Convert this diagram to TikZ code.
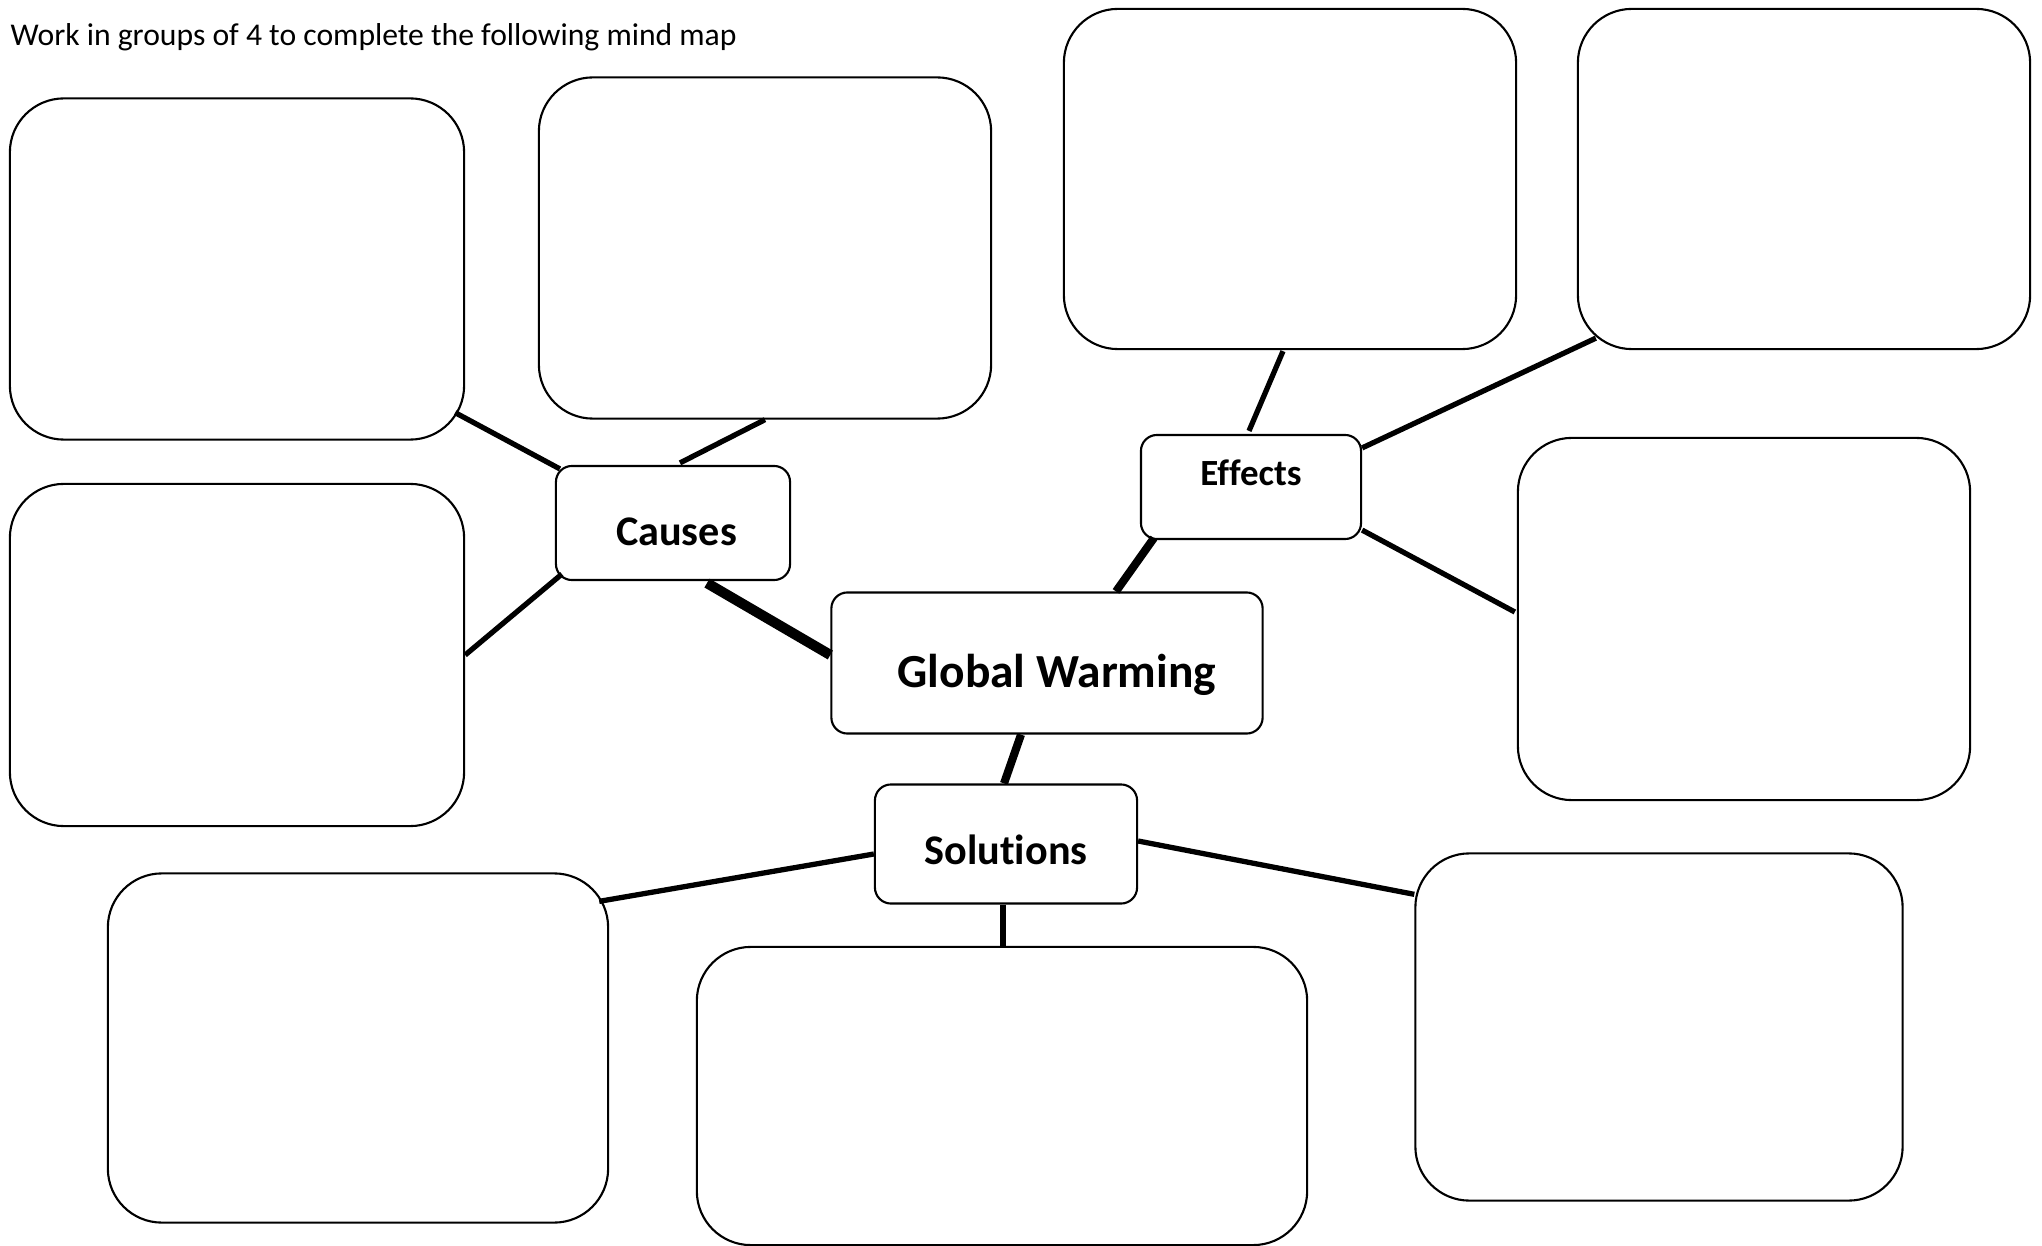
\documentclass[tikz,border=0pt]{standalone}
\usepackage{fontspec}
\setmainfont{Carlito}[Ligatures=CommonOff]
\begin{document}
\begin{tikzpicture}[x=0.01cm, y=-0.01cm,
        bigbox/.style={draw, line width=0.6pt, rounded corners=0.54cm, inner sep=0},
        topic/.style={draw, line width=0.6pt, rounded corners=0.16cm, inner sep=0, font=\bfseries},
        twig/.style={line width=1.5pt},
        branch/.style={line width=2.3pt}]
        \useasboundingbox (0,0) rectangle (2042,1246);

        \node[anchor=west, inner sep=0, font=\fontsize{9}{11}\selectfont] (task) at (10,37) {Work in groups of 4 to complete the following mind map};

        % centre and the three topics
        \node[topic, minimum width=4.31cm, minimum height=1.41cm, text height=16.8pt, text depth=2.6pt, font=\bfseries\fontsize{13.5}{16}\selectfont] (gw) at (1047,663) {\hspace{5.6pt}Global Warming};
        \node[topic, minimum width=2.34cm, minimum height=1.14cm, text height=13pt, text depth=0pt, font=\bfseries\fontsize{12}{14}\selectfont] (causes) at (673,523) {\hspace{2pt}Causes};
        \node[topic, minimum width=2.20cm, minimum height=1.04cm, text depth=8pt, font=\bfseries\fontsize{10.5}{12}\selectfont] (effects) at (1251,487) {Effects};
        \node[topic, minimum width=2.62cm, minimum height=1.19cm, text height=11.8pt, text depth=0pt, font=\bfseries\fontsize{12}{14}\selectfont] (solutions) at (1006,844) {Solutions};

        % empty boxes
        \node[bigbox, minimum width=4.54cm, minimum height=3.41cm] (c1) at (237,269) {};
        \node[bigbox, minimum width=4.52cm, minimum height=3.41cm] (c2) at (765,248) {};
        \node[bigbox, minimum width=4.54cm, minimum height=3.42cm] (c3) at (237,655) {};
        \node[bigbox, minimum width=4.52cm, minimum height=3.40cm] (e1) at (1290,179) {};
        \node[bigbox, minimum width=4.52cm, minimum height=3.40cm] (e2) at (1804,179) {};
        \node[bigbox, minimum width=4.52cm, minimum height=3.62cm] (e3) at (1744,619) {};
        \node[bigbox, minimum width=5.00cm, minimum height=3.49cm] (s1) at (358,1048) {};
        \node[bigbox, minimum width=6.10cm, minimum height=2.98cm] (s2) at (1002,1096) {};
        \node[bigbox, minimum width=4.87cm, minimum height=3.47cm] (s3) at (1659,1027) {};

        \draw[line width=2.9pt] ([shift={(34,2)}]causes.south) -- ([shift={(0,-8)}]gw.west);
        \draw[branch] ([shift={(14,-2)}]effects.south west) -- ([shift={(69,0)}]gw.north);
        \draw[branch] ([shift={(-26,0)}]gw.south) -- ([shift={(-2,0)}]solutions.north);

        \draw[twig] ([shift={(5,4)}]causes.north west) -- ([shift={(-10,-28)}]c1.south east);
        \draw[twig] ([shift={(7,-2)}]causes.north) -- (c2.south);
        \draw[twig] ([shift={(7,-7)}]causes.south west) -- (c3.east);

        \draw[twig] ([shift={(-2,-3)}]effects.north) -- ([shift={(-7,1)}]e1.south);
        \draw[twig] ([shift={(0,14)}]effects.north east) -- ([shift={(19,-12)}]e2.south west);
        \draw[twig] ([shift={(0,-10)}]effects.south east) -- ([shift={(-2,-7)}]e3.west);

        \draw[twig] ([shift={(0,10)}]solutions.west) -- ([shift={(-10,29)}]s1.north east);
        \draw[twig] ([shift={(-3,0)}]solutions.south) -- ([shift={(-3,0)}]solutions.south |- s2.north);
        \draw[twig] ([shift={(0,-3)}]solutions.east) -- ([shift={(0,42)}]s3.north west);
    \end{tikzpicture}
\end{document}
